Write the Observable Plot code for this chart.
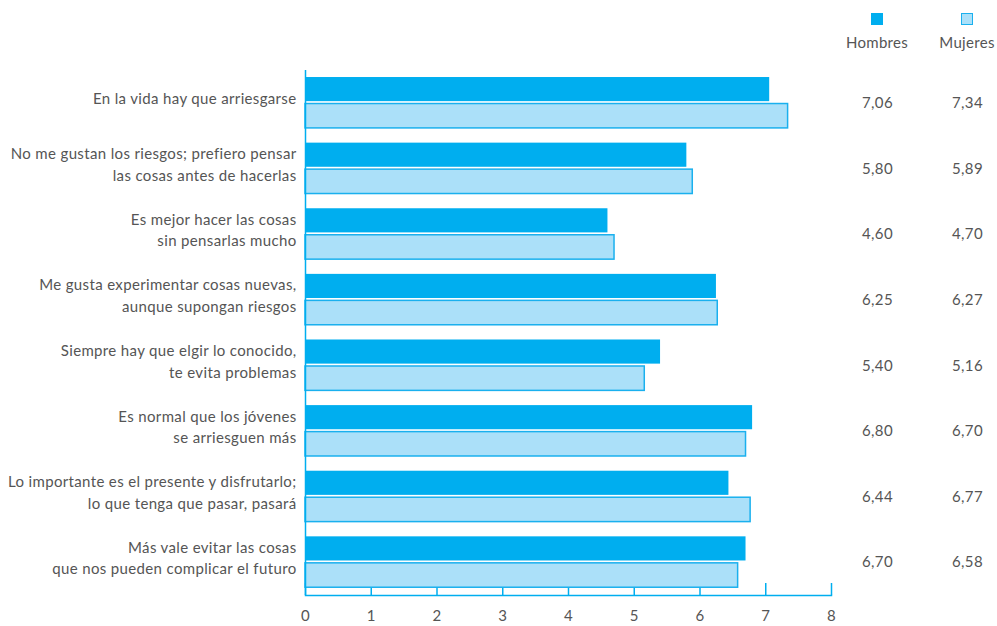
<!DOCTYPE html>
<html>
<head>
<meta charset="utf-8">
<script src="https://cdn.jsdelivr.net/npm/d3@7"></script>
<script src="https://cdn.jsdelivr.net/npm/@observablehq/plot@0.6"></script>
<style>
  html, body { margin: 0; padding: 0; background: #fff; }
  #wrap { position: relative; width: 997px; height: 626px; font-family: Lato, "Open Sans", sans-serif; color: #555; }
  .leg { position: absolute; top: 13px; width: 90px; text-align: center; font-size: 15px; letter-spacing: 0.3px; }
  .sw { width: 12px; height: 12px; margin: 0 auto 8px auto; box-sizing: border-box; }
</style>
</head>
<body>
<div id="wrap">
  <div class="leg" style="left:832px"><div class="sw" style="background:#00aeef"></div>Hombres</div>
  <div class="leg" style="left:922px"><div class="sw" style="background:#abe0f9;border:1.5px solid #1ab0ee"></div>Mujeres</div>
</div>
<script>
const questions = [
  "En la vida hay que arriesgarse",
  "No me gustan los riesgos; prefiero pensar\nlas cosas antes de hacerlas",
  "Es mejor hacer las cosas\nsin pensarlas mucho",
  "Me gusta experimentar cosas nuevas,\naunque supongan riesgos",
  "Siempre hay que elgir lo conocido,\nte evita problemas",
  "Es normal que los jóvenes\nse arriesguen más",
  "Lo importante es el presente y disfrutarlo;\nlo que tenga que pasar, pasará",
  "Más vale evitar las cosas\nque nos pueden complicar el futuro"
];
const hombres = [7.06, 5.80, 4.60, 6.25, 5.40, 6.80, 6.44, 6.70];
const mujeres = [7.34, 5.89, 4.70, 6.27, 5.16, 6.70, 6.77, 6.58];
const xTicks = [0, 1, 2, 3, 4, 5, 6, 7, 8];

const H = questions.map((q, i) => ({q, v: hombres[i]}));
const M = questions.map((q, i) => ({q, v: mujeres[i]}));
const fmt = v => d3.format(".2f")(v).replace(".", ",");
const cyan = "#00aeef";

const chart = Plot.plot({
  width: 997,
  height: 626,
  marginLeft: 305,
  marginRight: 166,
  marginTop: 70,
  marginBottom: 31,
  style: {fontFamily: "Lato, 'Open Sans', sans-serif", fontSize: "15px", color: "#555", background: "transparent", letterSpacing: "0.35px"},
  x: {domain: [0, 8], axis: null, label: null},
  y: {domain: questions, paddingInner: 0.213, paddingOuter: 0.107, round: false, axis: null, label: null},
  marks: [
    Plot.axisX(xTicks, {anchor: "bottom", label: null, tickSize: -12, tickPadding: 27, stroke: cyan, strokeWidth: 1.5, fill: "#555", fontSize: 15}),
    Plot.barX(H, {x: "v", y: "q", fill: cyan, insetBottom: 27.5}),
    Plot.barX(M, {x: "v", y: "q", fill: "#abe0f9", stroke: "#1ab0ee", strokeWidth: 1.5, insetTop: 26.5, insetBottom: 0.75}),
    Plot.ruleX([0], {stroke: cyan, strokeWidth: 1.5}),
    Plot.frame({anchor: "bottom", stroke: cyan, strokeWidth: 1.5}),
    Plot.axisY({anchor: "left", label: null, tickSize: 0, tickPadding: 9, lineHeight: 1.45, dy: -6, fontSize: 15, fill: "#555"}),
    Plot.text(H, {y: "q", text: d => fmt(d.v), frameAnchor: "right", dx: 46, textAnchor: "middle", fill: "#555", fontSize: 15}),
    Plot.text(M, {y: "q", text: d => fmt(d.v), frameAnchor: "right", dx: 136, textAnchor: "middle", fill: "#555", fontSize: 15})
  ]
});
chart.style.position = "absolute";
chart.style.left = "0";
chart.style.top = "0";
document.getElementById("wrap").prepend(chart);
</script>
</body>
</html>
